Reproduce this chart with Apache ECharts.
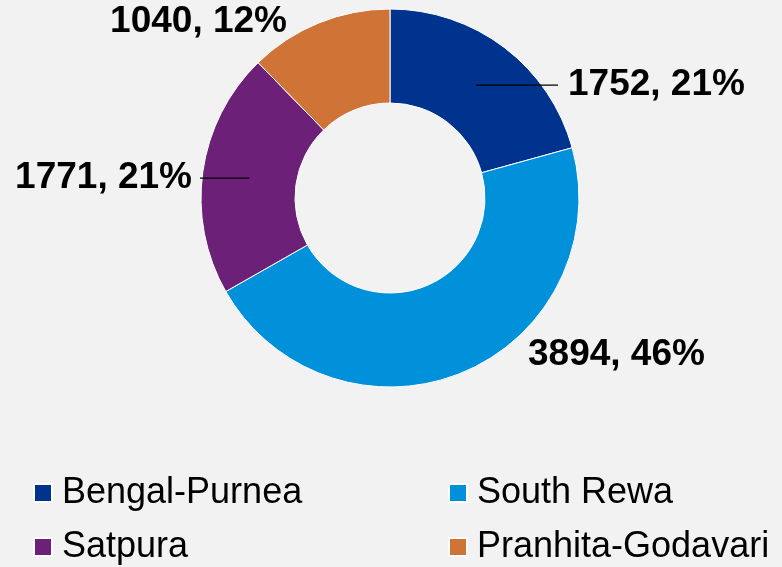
<!DOCTYPE html>
<html>
<head>
<meta charset="utf-8">
<script src="https://cdn.jsdelivr.net/npm/echarts@6/dist/echarts.min.js"></script>
<style>
    html, body { margin: 0; padding: 0; background: #f2f2f2; }
    #chart { width: 782px; height: 567px; }
</style>
</head>
<body>
<div id="chart"></div>
<script>
    // Data
    const names = ["Bengal-Purnea", "South Rewa", "Satpura", "Pranhita-Godavari"];
    const values = [1752, 3894, 1771, 1040];
    const colors = ["#00338d", "#0091da", "#6d2077", "#cf7336"];

    // Label placement (anchor point of each label) and which ones get a leader line
    const labelAnchors = [
        { x: 568, y: 85, align: "left" },
        { x: 528, y: 355, align: "left" },
        { x: 192, y: 178, align: "right" },
        { x: 287, y: 22, align: "right" },
    ];
    const hasLeader = [true, false, true, false];

    const cx = 390, cy = 198, r0 = 95, r1 = 189;
    const total = values.reduce((a, b) => a + b, 0);

    // mid angle of slice i, clockwise from 12 o'clock
    function midAngle(i) {
        let s = 0;
        for (let k = 0; k < i; k++) s += values[k];
        return ((s + values[i] / 2) / total) * 2 * Math.PI;
    }

    const chart = echarts.init(document.getElementById("chart"));

    const legendCommon = {
        orient: "vertical",
        top: 473,
        padding: 0,
        icon: "rect",
        itemWidth: 18,
        itemHeight: 18,
        itemGap: 14,
        textStyle: {
            fontFamily: "Liberation Sans, Arial, sans-serif",
            fontSize: 36,
            lineHeight: 40,
            color: "#000",
            padding: [0, 0, 0, 5],
        },
    };

    const pieCommon = {
        type: "pie",
        center: [cx, cy],
        radius: [r0, r1],
        startAngle: 90,
        clockwise: true,
        percentPrecision: 0,
        avoidLabelOverlap: false,
        emphasis: { disabled: true },
    };

    chart.setOption({
        animation: false,
        backgroundColor: "#f2f2f2",
        legend: [
            Object.assign({}, legendCommon, { left: 33, data: [names[0], names[2]] }),
            Object.assign({}, legendCommon, { left: 448, data: [names[1], names[3]] }),
        ],
        series: [
            // the donut itself
            Object.assign({}, pieCommon, {
                itemStyle: { borderColor: "#ffffff", borderWidth: 1 },
                label: { show: false },
                labelLine: { show: false },
                data: names.map((n, i) => ({
                    name: n,
                    value: values[i],
                    itemStyle: { color: colors[i] },
                })),
            }),
            // transparent copy on top, carries the labels so leader lines sit above the ring
            Object.assign({}, pieCommon, {
                z: 3,
                silent: true,
                itemStyle: { color: "rgba(0,0,0,0)", borderWidth: 0 },
                label: {
                    show: true,
                    position: "outside",
                    formatter: "{c}, {d}%",
                    fontFamily: "Liberation Sans, Arial, sans-serif",
                    fontSize: 37,
                    fontWeight: "bold",
                    color: "#000",
                },
                labelLine: {
                    lineStyle: { color: "#000", width: 1.2 },
                },
                labelLayout: function (params) {
                    const i = params.dataIndex;
                    const a = labelAnchors[i];
                    const out = { x: a.x, y: a.y, align: a.align, verticalAlign: "middle" };
                    if (hasLeader[i]) {
                        const ang = midAngle(i);
                        const rm = (r0 + r1) / 2;
                        const sx = cx + rm * Math.sin(ang);
                        const sy = cy - rm * Math.cos(ang);
                        const ex = a.align === "left" ? a.x - 10 : a.x + 8;
                        out.labelLinePoints = [[sx, sy], [(sx + ex) / 2, sy], [ex, sy]];
                    }
                    return out;
                },
                data: names.map((n, i) => ({
                    name: n,
                    value: values[i],
                    labelLine: { show: hasLeader[i] },
                })),
            }),
        ],
    });
</script>
</body>
</html>
